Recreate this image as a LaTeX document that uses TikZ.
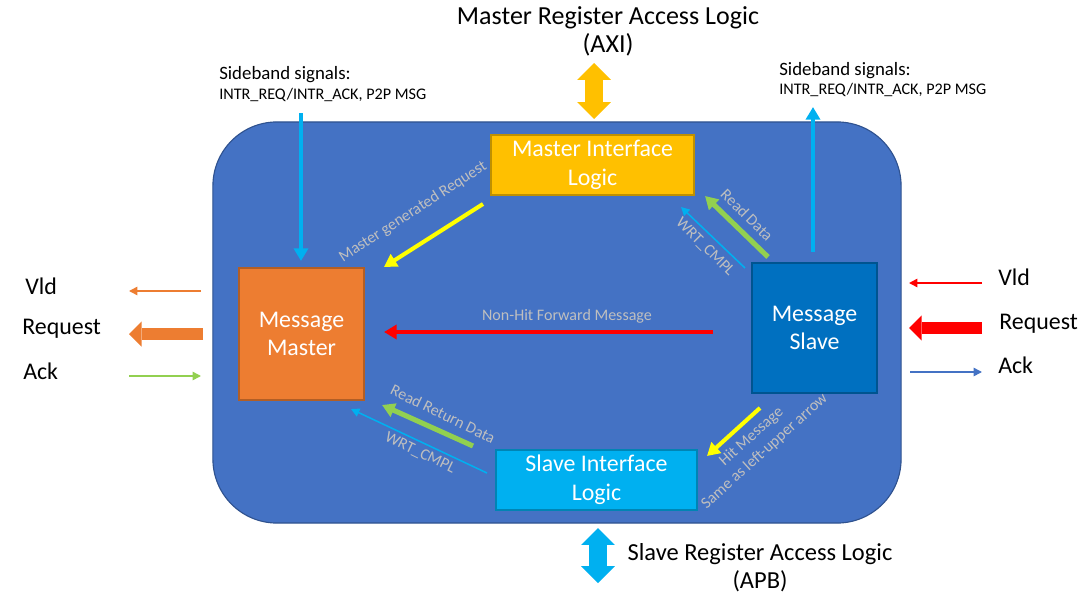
\documentclass[tikz,border=0pt]{standalone}
\usepackage{fontspec}
\setmainfont{Carlito}
\usetikzlibrary{positioning,arrows.meta}
\definecolor{coreblue}{HTML}{4472C4}
\definecolor{coreedge}{HTML}{2F528F}
\definecolor{mstorange}{HTML}{ED7D31}
\definecolor{slvblue}{HTML}{0070C0}
\definecolor{axigold}{HTML}{FFC000}
\definecolor{apbcyan}{HTML}{00B0F0}
\definecolor{rdgreen}{HTML}{92D050}
\definecolor{hityellow}{HTML}{FFFF00}
\definecolor{fwdred}{HTML}{FF0000}
\definecolor{lblgray}{HTML}{BFBFBF}

\begin{document}
\begin{tikzpicture}[x=0.025cm,y=-0.025cm,
  blk/.style={draw=#1!75!black,fill=#1,line width=0.8pt,text=white,align=center,font=\fontsize{17}{20.5}\selectfont},
  note/.style={text=lblgray,font=\fontsize{11.4}{13.6}\selectfont,inner sep=0pt,align=center},
  sig/.style={font=\fontsize{17}{20}\selectfont,anchor=base west,inner sep=0pt},
  side/.style={font=\fontsize{#1}{#1}\selectfont,anchor=base west,inner sep=0pt},
  wire/.style={draw=#1,line width=1.1pt,-{Triangle[length=6pt,width=6pt]}},
  link/.style={draw=#1,line width=2.9pt,-{Triangle[length=9pt,width=10pt]}},
  bus/.style={draw=#1,line width=8.5pt,-{Triangle[length=9pt,width=18pt,line width=0pt]}},
  port/.style={draw=#1,line width=13.5pt,{Triangle[length=12pt,width=24pt,line width=0pt]}-{Triangle[length=12pt,width=24pt,line width=0pt]}}]
\useasboundingbox (0,0) rectangle (1088,599);

% core and blocks
\node[draw=coreedge,fill=coreblue,line width=0.8pt,rounded corners=1.6cm,minimum width=17.2cm,minimum height=10.025cm] (core) at (557,322.5) {};
\node[blk=axigold,minimum width=5.075cm,minimum height=1.5cm] (mil) at (592.5,165) {Master Interface\\Logic};
\node[blk=mstorange,minimum width=3.125cm,minimum height=3.3cm] (mm) at (301.5,334) {Message\\Master};
\node[blk=slvblue,minimum width=3.125cm,minimum height=3.25cm] (ms) at (814.5,328) {Message\\Slave};
\node[blk=apbcyan,minimum width=5.025cm,minimum height=1.5cm] (sil) at (596.5,480) {Slave Interface\\Logic};

% register access ports
\node[align=center,inner sep=0pt,font=\fontsize{18.5}{20}\selectfont] (axi) at (608,31) {Master Register Access Logic\\(AXI)};
\node[align=center,inner sep=0pt,font=\fontsize{17.4}{20}\selectfont] (apb) at (760,568) {Slave Register Access Logic\\(APB)};
\coordinate (axi-a) at (594,63);
\coordinate (axi-b) at (594,119);
\coordinate (apb-a) at (598,528);
\coordinate (apb-b) at (598,583);
\draw[port=axigold] (axi-a) -- (axi-b);
\draw[port=apbcyan] (apb-a) -- (apb-b);

% sideband
\node[side=13.4] (sbl) at (219,79) {Sideband signals:};
\node[side=11.5] (sbl2) at (219,99) {INTR\_REQ/INTR\_ACK, P2P MSG};
\node[side=13.4] (sbr) at (779,75) {Sideband signals:};
\node[side=11.5] (sbr2) at (779,94) {INTR\_REQ/INTR\_ACK, P2P MSG};
\coordinate (sbl-a) at (301,113);
\coordinate (sbl-b) at (301,261);
\coordinate (sbr-a) at (813,252);
\coordinate (sbr-b) at (813,107);
\draw[link=apbcyan] (sbl-a) -- (sbl-b);
\draw[link=apbcyan] (sbr-a) -- (sbr-b);

% internal messages
\coordinate (req-a) at (483,204);
\coordinate (req-b) at (384,267);
\draw[link=hityellow] (req-a) -- (req-b);
\node[note,rotate=33] (reqlbl) at (413,212) {Master generated Request};

\coordinate (rd-a) at (768,257);
\coordinate (rd-b) at (705,196);
\draw[link=rdgreen,line width=3.6pt] (rd-a) -- (rd-b);
\node[note,rotate=-45] (rdlbl) at (747,215) {Read Data};
\coordinate (wc-a) at (745,268);
\coordinate (wc-b) at (681,207);
\draw[wire=apbcyan] (wc-a) -- (wc-b);
\node[note,rotate=-45] (wclbl) at (705,247) {WRT\_CMPL};

\coordinate (fwd-a) at (713,332);
\coordinate (fwd-b) at (384,332);
\draw[link=fwdred] (fwd-a) -- (fwd-b);
\node[note] (fwdlbl) at (567,316) {Non-Hit Forward Message};

\coordinate (rr-a) at (473,446);
\coordinate (rr-b) at (382,405);
\draw[link=rdgreen,line width=3.6pt] (rr-a) -- (rr-b);
\node[note,rotate=-26] (rrlbl) at (443,414) {Read Return Data};
\coordinate (wc2-a) at (487,473);
\coordinate (wc2-b) at (351,409);
\draw[wire=apbcyan] (wc2-a) -- (wc2-b);
\node[note,rotate=-26] (wc2lbl) at (420,453) {WRT\_CMPL};

\coordinate (hit-a) at (760,408);
\coordinate (hit-b) at (707,456);
\draw[link=hityellow] (hit-a) -- (hit-b);
\node[note,rotate=42,font=\fontsize{11.4}{14}\selectfont] (hitlbl) at (758,444) {Hit Message\\Same as left-upper arrow};

% left side signals
\node[sig] (lvld) at (25,294) {Vld};
\node[sig] (lreq) at (22,334) {Request};
\node[sig] (lack) at (23,379) {Ack};
\coordinate (lvld-a) at (201,291);
\coordinate (lvld-b) at (129,291);
\coordinate (lreq-a) at (203,334);
\coordinate (lreq-b) at (129,334);
\coordinate (lack-a) at (129,376);
\coordinate (lack-b) at (201,376);
\draw[wire=mstorange] (lvld-a) -- (lvld-b);
\draw[bus=mstorange] (lreq-a) -- (lreq-b);
\draw[wire=rdgreen] (lack-a) -- (lack-b);

% right side signals
\node[sig] (rvld) at (998,285) {Vld};
\node[sig] (rreq) at (999,329) {Request};
\node[sig] (rack) at (998,373) {Ack};
\coordinate (rvld-a) at (982,283);
\coordinate (rvld-b) at (909,283);
\coordinate (rreq-a) at (982,328);
\coordinate (rreq-b) at (909,328);
\coordinate (rack-a) at (910,372);
\coordinate (rack-b) at (982,372);
\draw[wire=fwdred] (rvld-a) -- (rvld-b);
\draw[bus=fwdred] (rreq-a) -- (rreq-b);
\draw[wire=coreblue] (rack-a) -- (rack-b);

\end{tikzpicture}
\end{document}
